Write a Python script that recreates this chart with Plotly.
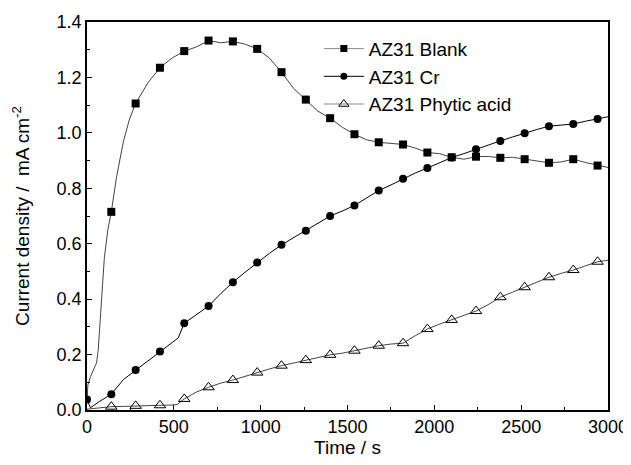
import plotly.graph_objects as go

# ---- data ----
t_blank = [0, 5, 20, 55, 65, 80, 100, 120, 140, 170, 210, 245, 280, 350, 420, 490, 560, 630,
           700, 770, 840, 910, 980, 1050, 1120, 1190, 1260, 1330, 1400, 1470, 1540, 1610, 1680,
           1750, 1820, 1890, 1960, 2030, 2100, 2170, 2240, 2310, 2380, 2450, 2520, 2590, 2660,
           2730, 2800, 2870, 2940, 3000]
j_blank = [0.03, 0.09, 0.12, 0.17, 0.22, 0.38, 0.55, 0.65, 0.715, 0.84, 0.97, 1.05, 1.106, 1.18,
           1.235, 1.27, 1.295, 1.31, 1.333, 1.325, 1.33, 1.32, 1.303, 1.27, 1.219, 1.16, 1.12,
           1.078, 1.053, 1.02, 0.995, 0.975, 0.966, 0.962, 0.958, 0.945, 0.929, 0.925, 0.912,
           0.905, 0.914, 0.915, 0.910, 0.912, 0.905, 0.900, 0.892, 0.895, 0.905, 0.893, 0.882, 0.875]

t_cr = [0, 20, 70, 140, 210, 280, 350, 420, 490, 525, 560, 630, 700, 770, 840, 910, 980, 1050,
        1120, 1190, 1260, 1330, 1400, 1470, 1540, 1610, 1680, 1750, 1820, 1890, 1960, 2030, 2100,
        2170, 2240, 2310, 2380, 2450, 2520, 2590, 2660, 2730, 2800, 2870, 2940, 3000]
j_cr = [0.038, 0.008, 0.03, 0.057, 0.11, 0.144, 0.175, 0.211, 0.245, 0.26, 0.313, 0.345, 0.375,
        0.42, 0.461, 0.497, 0.532, 0.565, 0.596, 0.622, 0.647, 0.675, 0.70, 0.718, 0.738, 0.765,
        0.792, 0.812, 0.834, 0.855, 0.873, 0.893, 0.911, 0.925, 0.941, 0.955, 0.971, 0.985, 0.999,
        1.012, 1.024, 1.028, 1.032, 1.042, 1.05, 1.058]

t_phy = [0, 70, 140, 210, 280, 350, 420, 490, 520, 560, 630, 700, 770, 840, 910, 980, 1050,
         1120, 1190, 1260, 1330, 1400, 1470, 1540, 1610, 1680, 1750, 1820, 1890, 1960, 2030,
         2100, 2170, 2240, 2310, 2380, 2450, 2520, 2590, 2660, 2730, 2800, 2870, 2940, 3000]
j_phy = [0.003, 0.008, 0.012, 0.013, 0.015, 0.016, 0.017, 0.018, 0.02, 0.04, 0.065, 0.082,
         0.097, 0.108, 0.122, 0.135, 0.148, 0.16, 0.17, 0.18, 0.19, 0.199, 0.205, 0.214, 0.224,
         0.232, 0.238, 0.241, 0.268, 0.292, 0.31, 0.325, 0.34, 0.357, 0.38, 0.407, 0.425, 0.443,
         0.462, 0.479, 0.493, 0.505, 0.52, 0.535, 0.54]

names = ["AZ31 Blank", "AZ31 Cr", "AZ31 Phytic acid"]
x_ticks = [0, 500, 1000, 1500, 2000, 2500, 3000]
y_ticks = [0.0, 0.2, 0.4, 0.6, 0.8, 1.0, 1.2, 1.4]
marker_step = 140

FONT = "Liberation Sans, Arial, sans-serif"

series = [
    (t_blank, j_blank, names[0], "#444444", "#888888",
     dict(symbol="square", size=8, color="black"), 140),
    (t_cr, j_cr, names[1], "black", "black",
     dict(symbol="circle", size=8, color="black"), 0),
    (t_phy, j_phy, names[2], "#444444", "#888888",
     dict(symbol="triangle-up-open", size=10, color="black", line=dict(width=1)), 140),
]

fig = go.Figure()
for t, j, name, lc, legc, mk, tmin in series:
    fig.add_trace(go.Scatter(x=t, y=j, mode="lines", line=dict(color=lc, width=1),
                             showlegend=False, hoverinfo="skip"))
    mt = [a for a in t if a % marker_step == 0 and a >= tmin]
    mj = [b for a, b in zip(t, j) if a % marker_step == 0 and a >= tmin]
    fig.add_trace(go.Scatter(x=mt, y=mj, mode="markers", marker=mk, showlegend=False))
    leg_mk = dict(mk)
    leg_mk["size"] = mk["size"] - 1
    fig.add_trace(go.Scatter(x=[None], y=[None], mode="lines+markers", name=name,
                             line=dict(color=legc, width=1), marker=leg_mk))

axis_common = dict(showline=True, linecolor="black", linewidth=1.5, mirror=True,
                   ticks="inside", ticklen=5, tickwidth=1, tickcolor="black",
                   showgrid=False, zeroline=False, automargin=False,
                   tickfont=dict(family=FONT, size=18, color="black"))

fig.update_xaxes(range=[0, 3000], tickvals=x_ticks, ticktext=[str(v) for v in x_ticks],
                 minor=dict(ticks="inside", ticklen=3, dtick=250, tickcolor="black"),
                 title=dict(text="Time / s", font=dict(family=FONT, size=19, color="black"),
                            standoff=4),
                 **axis_common)
fig.update_yaxes(range=[0, 1.4], tickvals=y_ticks, ticktext=[f"{v:.1f}" for v in y_ticks],
                 minor=dict(ticks="inside", ticklen=3, dtick=0.1, tickcolor="black"),
                 title=dict(text="Current density /  mA cm<sup>-2</sup>",
                            font=dict(family=FONT, size=19, color="black"), standoff=22),
                 **axis_common)

# the page body adds an 8 px offset, so margins are shifted to compensate
fig.update_layout(
    width=631, height=465,
    margin=dict(l=79, r=31, t=14, b=63),
    plot_bgcolor="white", paper_bgcolor="white",
    legend=dict(x=0.445, y=0.98, xanchor="left", yanchor="top",
                bgcolor="rgba(0,0,0,0)", font=dict(family=FONT, size=19, color="black"),
                tracegroupgap=0, itemwidth=40),
    showlegend=True,
)

fig.write_html("out.html")
